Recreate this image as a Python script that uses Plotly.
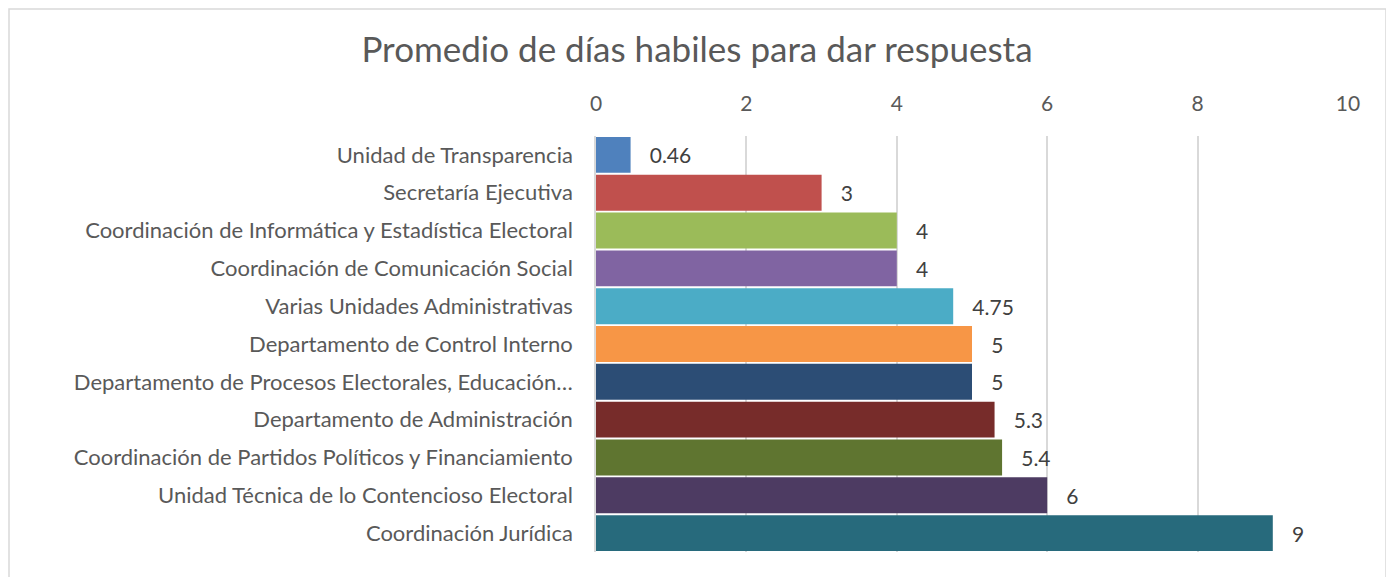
import plotly.graph_objects as go

categories = [
    "Unidad de Transparencia",
    "Secretaría Ejecutiva",
    "Coordinación de Informática y Estadística Electoral",
    "Coordinación de Comunicación Social",
    "Varias Unidades Administrativas",
    "Departamento de Control Interno",
    "Departamento de Procesos Electorales, Educación…",
    "Departamento de Administración",
    "Coordinación de Partidos Políticos y Financiamiento",
    "Unidad Técnica de lo Contencioso Electoral",
    "Coordinación Jurídica",
]
values = [0.46, 3, 4, 4, 4.75, 5, 5, 5.3, 5.4, 6, 9]
labels = ["0.46", "3", "4", "4", "4.75", "5", "5", "5.3", "5.4", "6", "9"]
colors = ["#4F81BD", "#C0504D", "#9BBB59", "#8064A2", "#4BACC6", "#F79646",
          "#2C4D75", "#772C2A", "#5F7530", "#4D3B62", "#276A7C"]
x_ticks = [0, 2, 4, 6, 8, 10]

FONT = "Lato, Open Sans, sans-serif"

# page body adds an 8px offset; margins compensate for it
L, T, W, H = 588, 128, 752, 416

fig = go.Figure(go.Bar(
    y=categories, x=values, orientation="h",
    marker=dict(color=colors, line=dict(width=0)),
    text=labels, texttemplate="   %{text}", textposition="outside",
    textfont=dict(size=21, color="#404040", family=FONT),
    cliponaxis=False,
))

fig.update_layout(
    width=1394, height=577,
    margin=dict(l=L, r=1394 - L - W, t=T, b=577 - T - H, autoexpand=False),
    paper_bgcolor="white", plot_bgcolor="white",
    bargap=0.05,
    showlegend=False,
    title=dict(text="Promedio de días habiles para dar respuesta",
               x=689 / 1394, xref="container", xanchor="center",
               y=1 - 42 / 577, yref="container", yanchor="middle",
               font=dict(size=35, color="#595959", family=FONT)),
    xaxis=dict(side="top", range=[0, 10], tickvals=x_ticks,
               showgrid=True, gridcolor="#D9D9D9", gridwidth=1.5,
               zeroline=False, showline=False, ticks="",
               ticklabelstandoff=20, automargin=False,
               tickfont=dict(size=21, color="#595959", family=FONT)),
    yaxis=dict(autorange="reversed", showline=True, linecolor="#D9D9D9", linewidth=1.5,
               ticks="", ticklabelstandoff=17, automargin=False,
               tickfont=dict(size=22, color="#595959", family=FONT)),
    shapes=[dict(type="rect", xref="paper", yref="paper",
                 x0=(1 - L) / W, x1=(1378 - L) / W,
                 y0=(T + H - 600) / H, y1=(T + H - 1) / H,
                 line=dict(color="#D9D9D9", width=1.5), fillcolor="rgba(0,0,0,0)",
                 layer="below")],
)

fig.write_html("out.html")
